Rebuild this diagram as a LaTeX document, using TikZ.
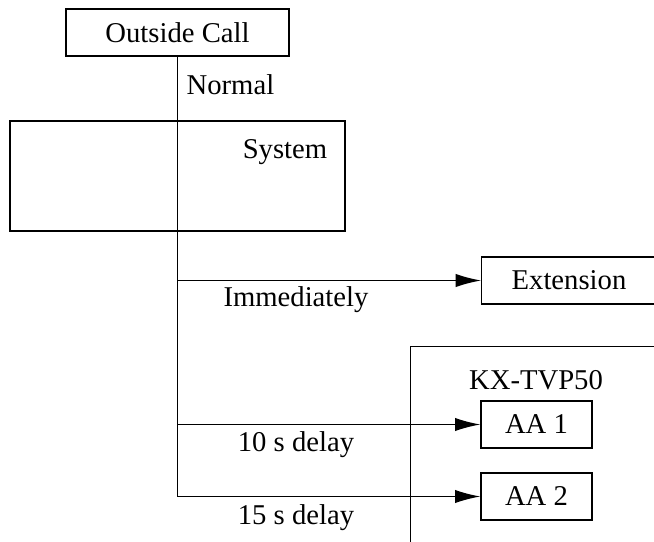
\documentclass[tikz,border=0pt]{standalone}
\usepackage{fontspec}
\setmainfont{Liberation Serif}
\usetikzlibrary{arrows.meta}

\tikzset{every picture/.style={line width=1pt}}
\tikzset{
  box/.style={draw, rectangle, inner sep=0pt, font=\fontsize{21.5}{26}\selectfont},
  lbl/.style={inner sep=0.75pt, font=\fontsize{21.5}{26}\selectfont},
  route/.style={-{Latex[length=19pt,width=10pt]}}
}

\begin{document}
\begin{tikzpicture}[x=0.75pt,y=0.75pt,yscale=-1,xscale=1]
\clip (0,0) rectangle (654,542);

%Boxes
\node [box, minimum width=167.25pt, minimum height=35.25pt] (call) at (177.5,32.5) {Outside Call};
\node [box, minimum width=251.25pt, minimum height=82.5pt] (system) at (177.5,176) {};
\node [box, minimum width=150pt, minimum height=35.25pt, anchor=west] (ext) at (481,280.5) {};
\node [box, minimum width=195pt, minimum height=180pt, anchor=north west] (tvp) at (410,346) {};
\node [box, minimum width=83.25pt, minimum height=35.25pt] (aa1) at (536.5,424.5) {AA 1};
\node [box, minimum width=83.25pt, minimum height=35.25pt] (aa2) at (536.5,496.5) {AA 2};

% Text Node
\node [lbl, anchor=west] (normal) at (185,85) {Normal};
\node [lbl] (systxt) at (285,152) {System};
\node [lbl] (exttxt) at (569,280.5) {Extension};
\node [lbl] (tvptxt) at (536,380) {KX-TVP50};
\node [lbl] (immed) at (296,300) {Immediately};
\node [lbl] (d10) at (296,445) {10 s delay};
\node [lbl] (d15) at (296,518) {15 s delay};

%Straight Lines
\coordinate (bend) at (177.5,496.5);
\draw (call) -- (bend);
\draw [route] (call |- ext) -- (ext);
\draw [route] (call |- aa1) -- (aa1);
\draw [route] (bend) -- (aa2);

\end{tikzpicture}
\end{document}
